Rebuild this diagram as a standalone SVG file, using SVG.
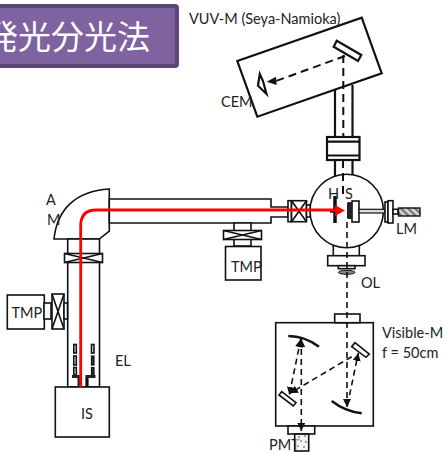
<svg xmlns="http://www.w3.org/2000/svg" width="443" height="452" viewBox="0 0 443 452">
<style>
text{font-family:Lato,"Open Sans","Liberation Sans",sans-serif;font-size:14.5px;fill:#222}
.l{fill:#fff;stroke:#111;stroke-width:1.6}
.t{fill:#fff;stroke:#111;stroke-width:2.2}
.n{fill:none;stroke:#111;stroke-width:1.6}
.d{fill:none;stroke:#111;stroke-width:1.6;stroke-dasharray:6 4}
.dt{fill:none;stroke:#111;stroke-width:2;stroke-dasharray:8 5}
.r{fill:none;stroke:#f00;stroke-width:2.8}
.e{fill:#fff;stroke:#111;stroke-width:1.6}
.s{fill:#333;stroke:#111;stroke-width:1.2}
</style>
<defs>
<marker id="ah" markerWidth="10" markerHeight="10" refX="8" refY="4" orient="auto" markerUnits="userSpaceOnUse"><path d="M0 0L8 4L0 8Z" fill="#111"/></marker>
<marker id="as" markerWidth="10" markerHeight="10" refX="0" refY="4" orient="auto" markerUnits="userSpaceOnUse"><path d="M8 0L0 4L8 8Z" fill="#111"/></marker>
<pattern id="hatch" width="5" height="5" patternUnits="userSpaceOnUse" patternTransform="rotate(-45)"><rect width="5" height="5" fill="#ddd"/><rect width="2.500" height="5" fill="#777"/></pattern>
<g id="valve"><rect class="l" x="-19" y="-4.500" width="38" height="9"/><path class="n" d="M-19 -4.500L19 4.500M-19 4.500L19 -4.500"/></g>
</defs>
<g id="title">
<rect x="-10" y="6" width="187" height="60" rx="2" fill="#7f63a1" stroke="#5c4677" stroke-width="4"/>
<text x="-15" y="49" style="font-family:'Noto Sans CJK JP','Noto Sans CJK SC',sans-serif;font-size:33px;fill:#fff">発光分光法</text>
</g>
<g id="vuv-tube"><path class="t" d="M335 85V137M352.500 85V137"/>
<rect class="t" x="327" y="137" width="32.500" height="23"/><path class="t" d="M327 141.700H359.500M327 155.500H359.500"/>
<path class="t" d="M335 160V176M352.500 160V176"/></g>
<g id="vuv-m">
<path class="t" d="M237.300 61L361.700 17.700L381.700 73.300L257.300 116.700Z"/>
<path class="t" d="M336.700 40.700L361.300 55L358 61L333.700 46.700Z"/>
<path class="t" fill="none" d="M259.800 74L258 85.700L266.500 94L263 81Z"/>
</g>
<g id="labels-top">
<text x="189" y="24">VUV-M (Seya-Namioka)</text>
<text x="221" y="107">CEM</text>
</g>
<g id="am">
<path class="l" d="M54 239C57 210 75 191 109.300 189V231L99.300 239Z"/>
<text x="46" y="205">A</text><text x="47" y="225">M</text>
</g>
<g id="el-tube">
<rect class="l" x="67.700" y="239" width="31.800" height="148"/>
<use href="#valve" x="83.500" y="258"/>
<rect class="e" x="73.800" y="344.500" width="2.500" height="8.500"/>
<rect class="e" x="73.800" y="356" width="2.500" height="9"/>
<rect class="e" x="73.800" y="367.500" width="2.500" height="7.500"/>
<rect class="e" x="91.500" y="344.500" width="2.500" height="8.500"/>
<rect class="s" x="91.500" y="356" width="2.500" height="9"/>
<rect class="s" x="91.500" y="367.500" width="2.500" height="7.500"/>
<path fill="#222" d="M72 375H80V386H77.500V378H72Z"/>
<path d="M87 386V377" stroke="#111" stroke-width="3.200"/>
<path d="M85.500 375H95.500V378H85.500Z" fill="#222"/>
<text x="115" y="366">EL</text>
</g>
<g id="tmp-left">
<rect class="l" x="7.300" y="295" width="37" height="34"/>
<rect class="l" x="44" y="303" width="7" height="16"/>
<rect class="l" x="52" y="294" width="12" height="35"/><path class="n" d="M52 294L64 329M64 294L52 329"/>
<rect class="l" x="64" y="303" width="3.500" height="16"/>
<text x="11.500" y="318">TMP</text>
</g>
<g id="is"><rect class="l" x="55.300" y="387" width="54" height="50"/><text x="81" y="419">IS</text></g>
<g id="h-pipe">
<path class="l" d="M109.300 199H271V207H288V217H271V223H109.300Z"/>
<path class="l" d="M234 223H251V246H234Z"/>
<use href="#valve" x="242.500" y="235"/>
<rect class="l" x="225.500" y="246.500" width="35.500" height="33.500"/>
<text x="231" y="272">TMP</text>
</g>
<g id="chamber">
<rect class="l" x="288" y="200.700" width="3.500" height="21"/>
<rect class="l" x="291.500" y="200.700" width="15" height="21"/><path class="n" d="M291.500 200.700L306.500 221.700M306.500 200.700L291.500 221.700"/>
<rect class="l" x="306.500" y="205" width="4" height="12"/>
<rect class="l" x="333.300" y="244" width="26" height="12"/>
<rect class="l" x="327.700" y="255.700" width="37.300" height="10"/>
<rect class="l" x="338.300" y="265.700" width="16.700" height="3"/>
<ellipse cx="346.700" cy="272.300" rx="8.300" ry="2" fill="#888" stroke="#111"/>
<circle class="l" cx="346.700" cy="211" r="36.700"/>
<path d="M335 196V223M330 211H338" fill="none" stroke="#111" stroke-width="3.500"/>
<rect x="352" y="201" width="7" height="21" fill="#fff" stroke="#111" stroke-width="1.600"/>
<rect x="347" y="202" width="5" height="17" rx="1.500" fill="#222"/>
<rect x="359" y="209.300" width="26" height="3.700" fill="#ddd" stroke="#111" stroke-width="1.200"/>
<rect x="385" y="202" width="3" height="20" class="l"/><rect x="388" y="200.700" width="5" height="22.300" class="l"/>
<rect x="393" y="209.300" width="5" height="4.700" class="l"/>
<rect x="398.500" y="208" width="21.500" height="8" fill="url(#hatch)" stroke="#111" stroke-width="1.400"/>
<text x="396" y="234">LM</text><text x="361" y="288">OL</text>
<text x="328" y="199">H</text><text x="345" y="199">S</text>
</g>
<g id="vis-m">
<text x="269" y="450">PMT</text>
<rect class="l" x="275.700" y="322.700" width="97.600" height="103.300"/>
<rect class="l" x="334.700" y="314" width="25.300" height="8.700"/>
<rect class="l" x="288" y="426" width="26.700" height="8"/>
<rect x="294.700" y="434" width="14" height="17" fill="#eee" fill-opacity=".6" stroke="#111" stroke-width="1.600"/>
<g fill="#111"><circle cx="299" cy="437" r=".7"/><circle cx="305" cy="436" r=".7"/><circle cx="301" cy="441" r=".7"/><circle cx="306" cy="442" r=".7"/><circle cx="298" cy="446" r=".7"/><circle cx="304" cy="447" r=".7"/></g>
<path d="M288.300 336C300 336 310 340 319 346.700" fill="none" stroke="#111" stroke-width="2.500"/>
<path d="M331.700 401C342 409 350 412 361.700 413.300" fill="none" stroke="#111" stroke-width="2.500"/>
<path class="l" d="M355 342.700L369.300 354L366 357.300L351.700 346.700Z"/>
<path class="l" d="M281.700 391.700L296 402.700L293.300 406L279 395Z"/>
<text x="382" y="338">Visible-M</text><text x="382" y="358">f = 50cm</text>
</g>
<g id="connectors">
<path class="dt" d="M343.300 55V137M343 160V198"/>
<path class="dt" d="M345 56L276 81"/>
<path d="M266.700 81.700L276 76.700L276.700 85Z" fill="#111"/>
<path class="d" d="M347 222V407" marker-end="url(#ah)"/>
<path class="d" d="M347.500 405L358.300 353" marker-end="url(#ah)"/>
<path class="d" d="M351.700 356.700L290 393.300" marker-end="url(#ah)"/>
<path class="d" d="M300.800 339L289.300 395" marker-start="url(#as)" marker-end="url(#ah)"/>
<path class="d" d="M301.300 339V431" marker-start="url(#as)" marker-end="url(#ah)"/>
<path class="r" d="M80.700 387V226Q80.700 210 96 210H336"/>
<path d="M345 210.500L335 205V216Z" fill="#f00"/>
</g>
</svg>
